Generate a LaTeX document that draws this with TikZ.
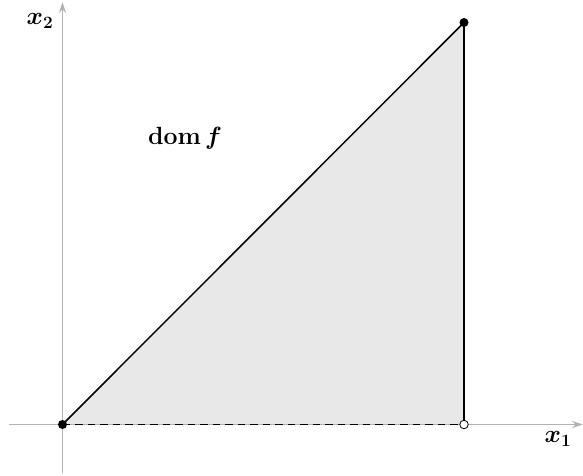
\documentclass[tikz,border=0pt]{standalone}
\usepackage{amsmath,bm}
\usetikzlibrary{arrows.meta}
\begin{document}
\begin{tikzpicture}[x=1pt,y=1pt,
  axis/.style={draw=black!30, line width=1pt, -{Stealth[length=11pt,width=7pt]}},
  edge/.style={draw=black, line width=1.5pt},
  dot/.style={circle, fill=black, inner sep=0pt, minimum size=9pt},
  odot/.style={circle, draw=black, fill=white, line width=0.8pt, inner sep=0pt, minimum size=8.5pt},
  lbl/.style={font=\fontsize{25}{30}\selectfont}]
\useasboundingbox (0,0) rectangle (583,475);
\coordinate (O) at (62.5,50.5);
\coordinate (T) at (464,452.5);
\coordinate (B) at (464,50.5);
\coordinate (xs) at (9,50.5);
\coordinate (xe) at (583,50.5);
\coordinate (ys) at (62.5,2);
\coordinate (ye) at (62.5,473);
\fill[black!9] (O) -- (T) -- (B) -- cycle;
\draw[axis] (xs) -- (xe);
\draw[axis] (ys) -- (ye);
\draw[edge] (O) -- (T);
\draw[edge] (T) -- (B);
\draw[edge, line width=1.7pt, dash pattern=on 7.5pt off 5pt] (O) -- (B);
\node[dot] (o) at (O) {};
\node[dot] (t) at (T) {};
\node[odot] (b) at (B) {};
\node[lbl] (x1) at (558,36) {$\bm{x_1}$};
\node[lbl] (x2) at (40,454) {$\bm{x_2}$};
\node[lbl] (dom) at (185,337) {$\mathbf{dom}\,\bm{f}$};
\end{tikzpicture}
\end{document}
